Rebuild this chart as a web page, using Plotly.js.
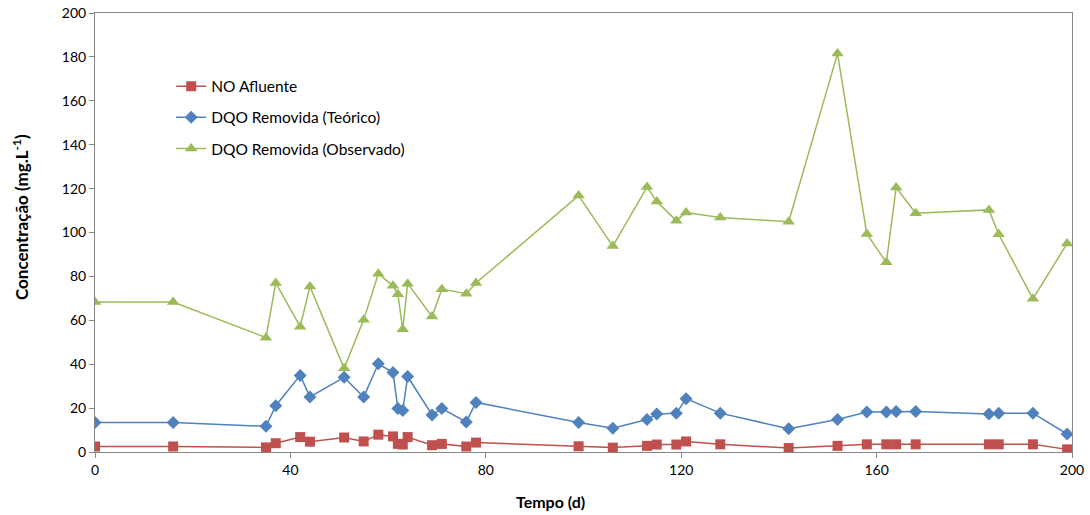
<!DOCTYPE html>
<html>
<head>
<meta charset="utf-8">
<script src="https://cdn.plot.ly/plotly-3.0.1.min.js"></script>
<style>
html, body { margin: 0; padding: 0; background: #ffffff; }
#chart { width: 1090px; height: 515px; }
</style>
</head>
<body>
<div id="chart"></div>
<script>
// Days (x) for all three series
const days = [0, 16, 35, 37, 42, 44, 51, 55, 58, 61, 62, 63, 64, 69, 71, 76, 78,
              99, 106, 113, 115, 119, 121, 128, 142, 152, 158, 162, 164, 168, 183, 185, 192, 199];

// NO Afluente
const noAfluente = [2.5, 2.5, 2.1, 4.0, 6.8, 4.7, 6.6, 4.8, 7.9, 7.1, 3.7, 3.4, 6.8, 3.1, 3.7, 2.5, 4.3,
                    2.6, 2.0, 2.8, 3.4, 3.4, 4.8, 3.5, 1.8, 2.8, 3.5, 3.5, 3.5, 3.5, 3.5, 3.5, 3.5, 1.2];

// DQO Removida (Teórico)
const dqoTeorico = [13.4, 13.4, 11.7, 21.1, 34.9, 25.1, 34.0, 25.1, 40.2, 36.2, 19.8, 18.9, 34.4, 16.9, 19.8, 13.7, 22.6,
                    13.4, 10.8, 14.8, 17.3, 17.6, 24.3, 17.7, 10.6, 14.8, 18.2, 18.2, 18.5, 18.5, 17.3, 17.7, 17.7, 8.2];

// DQO Removida (Observado)
const dqoObservado = [68.3, 68.3, 52.1, 77.0, 57.1, 75.4, 38.1, 60.2, 81.2, 75.7, 71.9, 55.9, 76.7, 61.7, 74.2, 72.1, 77.0,
                      116.8, 93.8, 120.7, 114.1, 105.4, 109.1, 106.8, 104.9, 181.5, 99.3, 86.4, 120.5, 108.8, 110.3, 99.2, 69.8, 95.0];

const seriesNames = ["NO Afluente", "DQO Removida (Teórico)", "DQO Removida (Observado)"];
const xTicks = [0, 40, 80, 120, 160, 200];
const yTicks = [0, 20, 40, 60, 80, 100, 120, 140, 160, 180, 200];

const FONT = "Lato, 'Open Sans', sans-serif";
const AXIS_COLOR = "#868686";

const traces = [
  {
    x: days, y: noAfluente, name: seriesNames[0], legendgroup: "a",
    type: "scatter", mode: "lines+markers",
    line: { color: "#C0504D", width: 1.5 },
    marker: { symbol: "square", size: 10, color: "#C0504D" }
  },
  {
    x: days, y: dqoTeorico, name: seriesNames[1], legendgroup: "b",
    type: "scatter", mode: "lines+markers",
    line: { color: "#4F81BD", width: 1.5 },
    marker: { symbol: "diamond", size: 10, color: "#4F81BD" }
  },
  {
    x: days, y: dqoObservado, name: seriesNames[2], legendgroup: "c",
    type: "scatter", mode: "lines+markers",
    line: { color: "#9BBB59", width: 1.5 },
    marker: { symbol: "triangle-up", size: 11, color: "#9BBB59" }
  }
];

const layout = {
  width: 1090, height: 515,
  paper_bgcolor: "#ffffff", plot_bgcolor: "#ffffff",
  margin: { l: 95, r: 18, t: 13, b: 63 },
  font: { family: FONT, size: 14, color: "#000000" },
  showlegend: true,
  legend: {
    x: 0.078, y: 0.871, xanchor: "left", yanchor: "top",
    bgcolor: "rgba(0,0,0,0)", borderwidth: 0,
    font: { family: FONT, size: 15.5, color: "#000000" },
    tracegroupgap: 8
  },
  xaxis: {
    range: [0, 200], tickvals: xTicks, ticktext: xTicks.map(String),
    showgrid: false, zeroline: false,
    showline: true, linecolor: AXIS_COLOR, linewidth: 1, mirror: true,
    ticks: "outside", ticklen: 5, tickcolor: AXIS_COLOR,
    tickfont: { family: FONT, size: 14, color: "#000000" }
  },
  yaxis: {
    range: [0, 200], tickvals: yTicks, ticktext: yTicks.map(String),
    showgrid: false, zeroline: false,
    showline: true, linecolor: AXIS_COLOR, linewidth: 1, mirror: true,
    ticks: "outside", ticklen: 5, tickcolor: AXIS_COLOR,
    tickfont: { family: FONT, size: 14, color: "#000000" }
  },
  annotations: [
    {
      text: "<b>Tempo (d)</b>", xref: "paper", yref: "paper",
      x: (550 - 95) / 977, y: -(501 - 452) / 439, xanchor: "center", yanchor: "middle",
      showarrow: false, font: { family: FONT, size: 16, color: "#000000" }
    },
    {
      text: "<b>Concentração (mg.L<sup>-1</sup>)</b>", xref: "paper", yref: "paper",
      x: -(95 - 20) / 977, y: (452 - 217) / 439, xanchor: "center", yanchor: "middle",
      textangle: -90, showarrow: false, font: { family: FONT, size: 17, color: "#000000" }
    }
  ]
};

Plotly.newPlot("chart", traces, layout, { displayModeBar: false, staticPlot: true });
</script>
</body>
</html>
